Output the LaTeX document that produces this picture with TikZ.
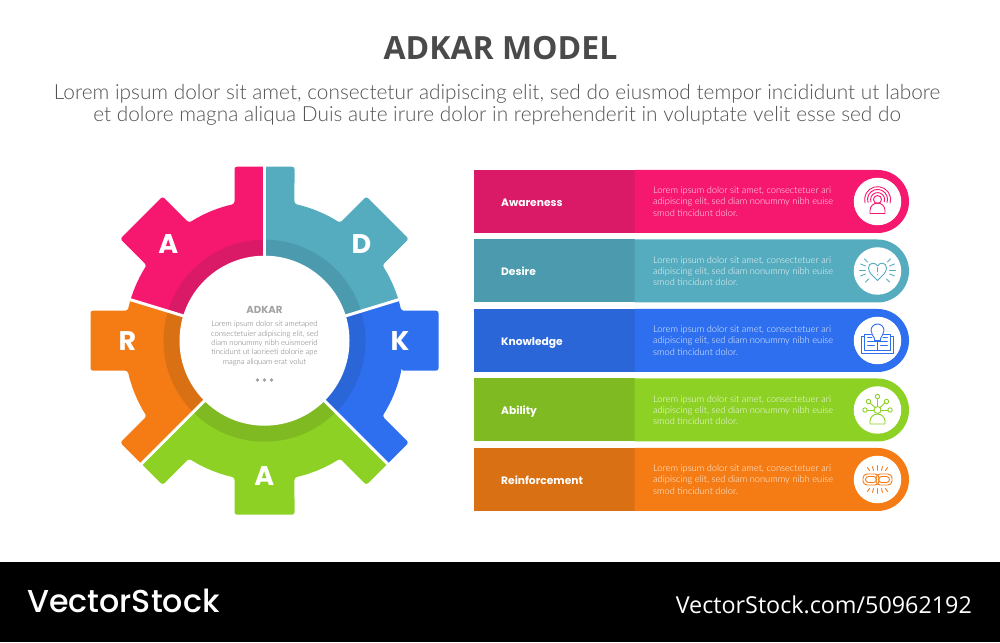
\documentclass[tikz,border=0pt]{standalone}
\usepackage{fontspec}
\setmainfont{Lato Light}
\newfontfamily\titlefont{Open Sans}
\newfontfamily\labelfont{Poppins}
\newfontfamily\brandfont{Poppins Medium}
\definecolor{pinkbar}{HTML}{F6176F}
\definecolor{pinkdark}{HTML}{DA1967}
\definecolor{tealbar}{HTML}{55ACBF}
\definecolor{tealdark}{HTML}{4C9AAE}
\definecolor{bluebar}{HTML}{2E6FF0}
\definecolor{bluedark}{HTML}{2B66D9}
\definecolor{greenbar}{HTML}{8DD124}
\definecolor{greendark}{HTML}{80BA22}
\definecolor{orangebar}{HTML}{F57C14}
\definecolor{orangedark}{HTML}{D97013}
\definecolor{hubgray}{HTML}{A3A3A3}
\newcommand{\gearpath}{(-12.37:140) \foreach \a in {0,45,...,315}{ -- ([rotate=\a]174,-30) -- ([rotate=\a]174,30) -- ({\a+12.37}:140) arc[start angle=\a+12.37,end angle=\a+32.63,radius=140]} -- cycle}
\tikzset{
  letter/.style={text=white,font=\labelfont\bfseries\fontsize{27}{27}\selectfont},
  barlabel/.style={text=white,anchor=base west,inner sep=0,font=\labelfont\bfseries\fontsize{10.7}{12}\selectfont},
  bartext/.style={text=white,text opacity=0.95,anchor=west,align=left,inner sep=0,font=\fontsize{9.3}{11.3}\selectfont},
  iconbg/.style={circle,fill=white,minimum size=47.5,inner sep=0},
  iconline/.style={line width=0.9,line cap=round,line join=round}
}
\begin{document}
\begin{tikzpicture}[x=1pt,y=1pt]
\useasboundingbox (0,0) rectangle (1000,642);

%title
\node (title) at (500.5,594) {\titlefont\bfseries\fontsize{32}{32}\selectfont\color[HTML]{4A4A4A} ADKAR MODEL};
\node[align=center,text=black!68,font=\fontsize{20.8}{22}\selectfont] (subtitle) at (497,537) {Lorem ipsum dolor sit amet, consectetur adipiscing elit, sed do eiusmod tempor incididunt ut labore\\et dolore magna aliqua Duis aute irure dolor in reprehenderit in voluptate velit esse sed do};

%gear
\begin{scope}[shift={(264.5,301.3)}]
\begin{scope}
\clip (0,0) -- (90:300) -- (163:300) -- cycle;
\path[fill=pinkbar,rounded corners=2.5] \gearpath;
\path[fill=pinkdark] (0,0) circle[radius=101];
\end{scope}
\begin{scope}
\clip (0,0) -- (17:300) -- (90:300) -- cycle;
\path[fill=tealbar,rounded corners=2.5] \gearpath;
\path[fill=tealdark] (0,0) circle[radius=101];
\end{scope}
\begin{scope}
\clip (0,0) -- (-45:300) -- (17:300) -- cycle;
\path[fill=bluebar,rounded corners=2.5] \gearpath;
\path[fill=bluedark] (0,0) circle[radius=101];
\end{scope}
\begin{scope}
\clip (0,0) -- (-135:300) -- (-45:300) -- cycle;
\path[fill=greenbar,rounded corners=2.5] \gearpath;
\path[fill=greendark] (0,0) circle[radius=101];
\end{scope}
\begin{scope}
\clip (0,0) -- (163:300) -- (225:300) -- cycle;
\path[fill=orangebar,rounded corners=2.5] \gearpath;
\path[fill=orangedark] (0,0) circle[radius=101];
\end{scope}
\path[draw=white,line width=3] (0,0) -- (90:185);
\path[draw=white,line width=3] (0,0) -- (17:185);
\path[draw=white,line width=3] (0,0) -- (163:185);
\path[draw=white,line width=3] (0,0) -- (-45:185);
\path[draw=white,line width=3] (0,0) -- (-135:185);
\node[circle,fill=white,minimum size=170,inner sep=0] (hub) at (0,0) {};
\end{scope}

\node[letter] (gearA) at (168.3,398.3) {A};
\node[letter] (gearD) at (361.5,398.3) {D};
\node[letter] (gearK) at (400,301.3) {K};
\node[letter] (gearAb) at (264.3,165.5) {A};
\node[letter] (gearR) at (127.5,301.3) {R};

%hub text
\node[text=hubgray,font=\labelfont\bfseries\fontsize{10.2}{11}\selectfont] (hubtitle) at (264.5,332) {ADKAR};
\node[text=black!55,align=center,inner sep=0,font=\fontsize{7.7}{9.3}\selectfont] (hubtext) at (264.5,298.5) {Lorem ipsum dolor sit ametaped\\consectetuier adipiscing elit, sed\\diam nonummy nibh euismoerid\\tincidunt ut laorieeti dolorie ape\\magna aliquam erat volut};
\path[fill=hubgray] (257.5,262) circle[radius=1.9];
\path[fill=hubgray] (264.5,262) circle[radius=1.9];
\path[fill=hubgray] (271.5,262) circle[radius=1.9];

%awareness
\path[fill=pinkdark] (474,409) rectangle (634.7,472);
\path[fill=pinkbar] (634.7,409) -- (877.5,409) arc[start angle=-90,end angle=90,radius=31.5] -- (634.7,472) -- cycle;
\node[barlabel] (awareness) at (501,435.5) {Awareness};
\node[bartext] (awarenesstext) at (653,440.5) {Lorem ipsum dolor sit amet, consectetuer ari\\adipiscing elit, sed diam nonummy nibh euise\\smod tincidunt  dolor.};
\node[iconbg] (awarenessicon) at (877.5,440.5) {};
\begin{scope}[shift={(877.5,440.5)},pinkbar,iconline]
\draw (0,2) circle[radius=4];
\draw (-7.5,-12) -- (7.5,-12) -- (7.5,-9) arc[start angle=0,end angle=180,radius=7.5] -- cycle;
\draw (-6.5,-0.5) arc[start angle=200,end angle=-20,radius=7];
\draw (-9.5,-1) arc[start angle=198,end angle=-18,radius=10];
\draw (-12.5,-1.5) arc[start angle=195,end angle=-15,radius=13];
\end{scope}

%desire
\path[fill=tealdark] (474,339.5) rectangle (634.7,402.5);
\path[fill=tealbar] (634.7,339.5) -- (877.5,339.5) arc[start angle=-90,end angle=90,radius=31.5] -- (634.7,402.5) -- cycle;
\node[barlabel] (desire) at (501,366) {Desire};
\node[bartext] (desiretext) at (653,371) {Lorem ipsum dolor sit amet, consectetuer ari\\adipiscing elit, sed diam nonummy nibh euise\\smod tincidunt  dolor.};
\node[iconbg] (desireicon) at (877.5,371) {};
\begin{scope}[shift={(877.5,371)},tealbar,iconline]
\draw (0,-9.5) .. controls (-5,-4.5) and (-9,-1.5) .. (-9,3) .. controls (-9,9) and (-2,9) .. (0,5) .. controls (2,9) and (9,9) .. (9,3) .. controls (9,-1.5) and (5,-4.5) .. (0,-9.5) -- cycle;
\draw (0,3.5) -- (0,-1);
\draw (0,-3.5) -- (0,-4);
\draw (-12,1) -- (-18,1);
\draw (-12,5) -- (-17,7);
\draw (-10,9) -- (-13,12);
\draw (-12,-3) -- (-17,-5);
\draw (-9,-8) -- (-12,-11);
\draw (12,1) -- (18,1);
\draw (12,5) -- (17,7);
\draw (10,9) -- (13,12);
\draw (12,-3) -- (17,-5);
\draw (9,-8) -- (12,-11);
\end{scope}

%knowledge
\path[fill=bluedark] (474,270) rectangle (634.7,333);
\path[fill=bluebar] (634.7,270) -- (877.5,270) arc[start angle=-90,end angle=90,radius=31.5] -- (634.7,333) -- cycle;
\node[barlabel] (knowledge) at (501,296.5) {Knowledge};
\node[bartext] (knowledgetext) at (653,301.5) {Lorem ipsum dolor sit amet, consectetuer ari\\adipiscing elit, sed diam nonummy nibh euise\\smod tincidunt  dolor.};
\node[iconbg] (knowledgeicon) at (877.5,301.5) {};
\begin{scope}[shift={(877.5,301.5)},bluebar,iconline]
\draw (-3,2) .. controls (-4,5) and (-6.5,6.5) .. (-6.5,10) arc[start angle=180,end angle=0,radius=6.5] .. controls (6.5,6.5) and (4,5) .. (3,2) -- (3,-1) -- (-3,-1) -- cycle;
\draw (-3,0.5) -- (3,0.5);
\draw (-6,6.5) -- (-13,6.5) -- (-13,-10) -- (13,-10) -- (13,6.5) -- (6,6.5);
\draw (-13,4) -- (-16,4) -- (-16,-13) -- (16,-13) -- (16,4) -- (13,4);
\draw (0,-10) -- (0,-1);
\draw (-10,3) -- (-5.5,3);
\draw (-10,-1) -- (-3,-1);
\draw (-10,-5) -- (-3,-5);
\draw (10,3) -- (5.5,3);
\draw (10,-1) -- (3,-1);
\draw (10,-5) -- (3,-5);
\end{scope}

%ability
\path[fill=greendark] (474,200.5) rectangle (634.7,263.5);
\path[fill=greenbar] (634.7,200.5) -- (877.5,200.5) arc[start angle=-90,end angle=90,radius=31.5] -- (634.7,263.5) -- cycle;
\node[barlabel] (ability) at (501,227) {Ability};
\node[bartext] (abilitytext) at (653,232) {Lorem ipsum dolor sit amet, consectetuer ari\\adipiscing elit, sed diam nonummy nibh euise\\smod tincidunt  dolor.};
\node[iconbg] (abilityicon) at (877.5,232) {};
\begin{scope}[shift={(877.5,232)},greenbar,iconline]
\draw (0,0) circle[radius=3.5];
\draw (-7.5,-14) -- (7.5,-14) -- (7.5,-11.5) arc[start angle=0,end angle=180,radius=7.5] -- cycle;
\draw (0,13.5) circle[radius=2.2];
\draw (-9,8.5) circle[radius=2.2];
\draw (9,8.5) circle[radius=2.2];
\draw (-12.5,0) circle[radius=2.2];
\draw (12.5,0) circle[radius=2.2];
\draw (0,3.5) -- (0,11.3);
\draw (-2.5,2.5) -- (-7.4,7);
\draw (2.5,2.5) -- (7.4,7);
\draw (-3.5,0) -- (-10.3,0);
\draw (3.5,0) -- (10.3,0);
\end{scope}

%reinforcement
\path[fill=orangedark] (474,131) rectangle (634.7,194);
\path[fill=orangebar] (634.7,131) -- (877.5,131) arc[start angle=-90,end angle=90,radius=31.5] -- (634.7,194) -- cycle;
\node[barlabel] (reinforcement) at (501,157.5) {Reinforcement};
\node[bartext] (reinforcementtext) at (653,162.5) {Lorem ipsum dolor sit amet, consectetuer ari\\adipiscing elit, sed diam nonummy nibh euise\\smod tincidunt  dolor.};
\node[iconbg] (reinforcementicon) at (877.5,162.5) {};
\begin{scope}[shift={(877.5,162.5)},orangebar,iconline]
\draw[rounded corners=4] (-14.5,-5.5) rectangle (1.5,5.5);
\draw[rounded corners=3] (-12,-3) rectangle (-1,3);
\draw[rounded corners=4] (-1.5,-5.5) rectangle (14.5,5.5);
\draw[rounded corners=3] (1,-3) rectangle (12,3);
\draw (0,9) -- (0,14);
\draw (-4,9) -- (-5,13);
\draw (4,9) -- (5,13);
\draw (-8,9) -- (-10,12);
\draw (8,9) -- (10,12);
\draw (0,-9) -- (0,-14);
\draw (-4,-9) -- (-5,-13);
\draw (4,-9) -- (5,-13);
\draw (-8,-9) -- (-10,-12);
\draw (8,-9) -- (10,-12);
\end{scope}

%footer
\path[fill=black] (0,0) rectangle (1000,80);
\node[anchor=west,inner sep=0,text=white,font=\brandfont\fontsize{31.7}{32}\selectfont] (brand) at (27,41) {VectorStock};
\node[anchor=east,inner sep=0,text=white,font=\titlefont\fontsize{23.3}{23.3}\selectfont] (imageid) at (972,37) {VectorStock.com/50962192};

\end{tikzpicture}
\end{document}
